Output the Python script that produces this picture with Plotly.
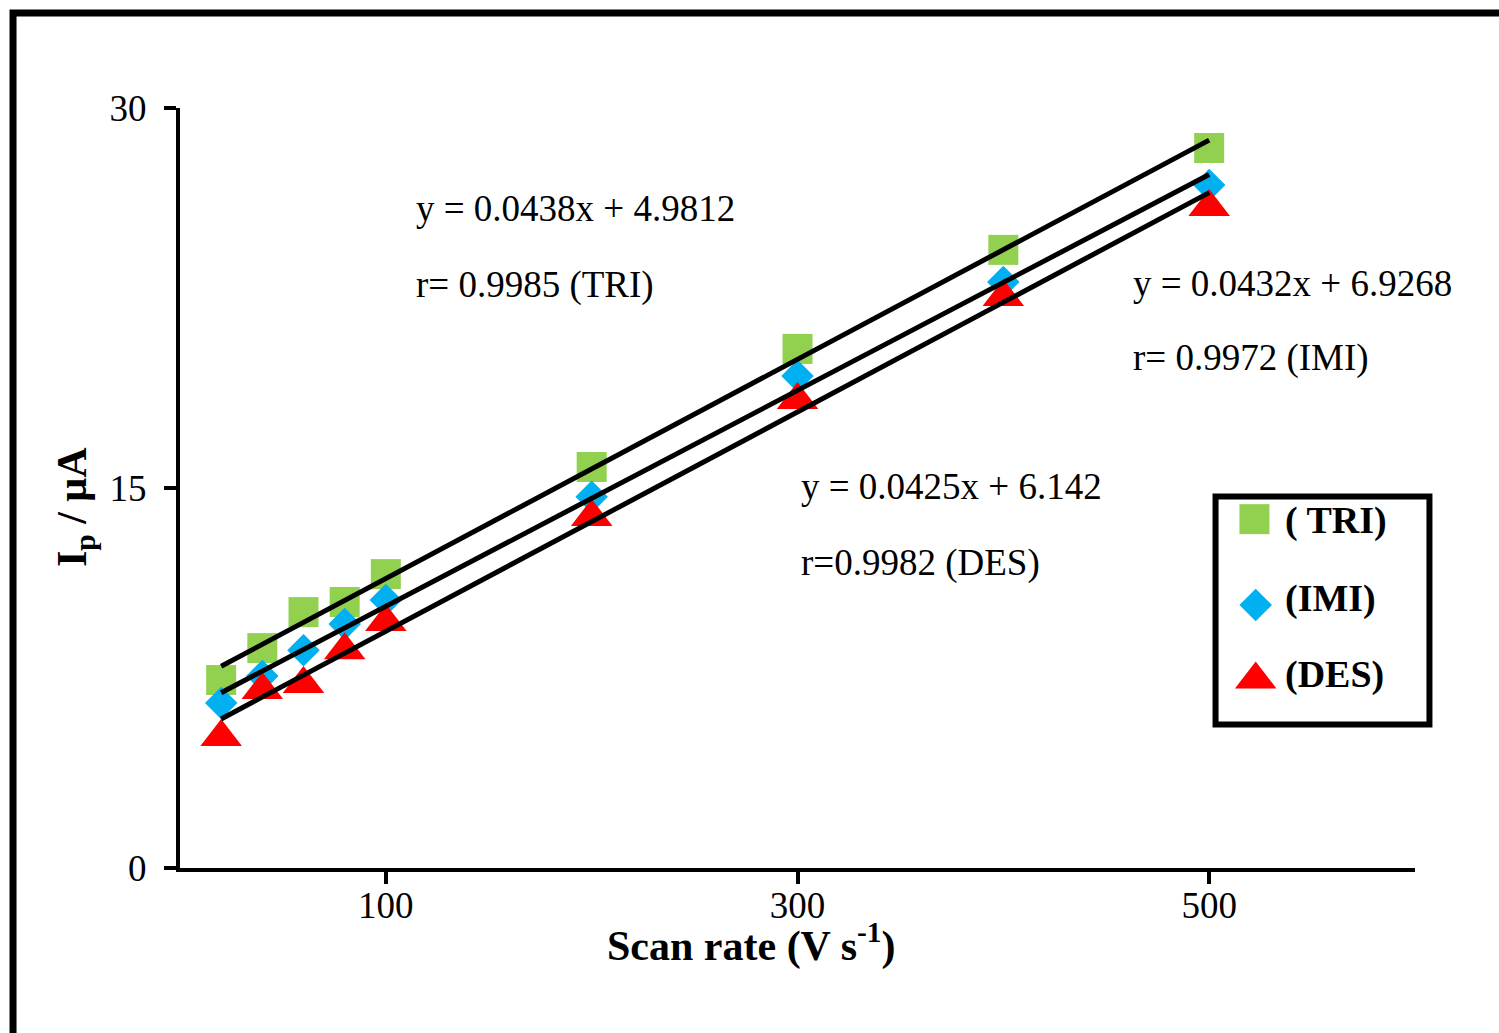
import numpy as np
import plotly.graph_objects as go

scan_rate = [20, 40, 60, 80, 100, 200, 300, 400, 500]
tri = [7.42, 8.68, 10.1, 10.5, 11.6, 15.83, 20.49, 24.4, 28.42]
imi = [6.51, 7.58, 8.6, 9.63, 10.58, 14.65, 19.42, 23.13, 26.96]
des = [5.17, 7.03, 7.26, 8.6, 9.71, 13.86, 18.47, 22.54, 26.09]

series_names = ["( TRI)", "(IMI)", "(DES)"]
series_colors = ["#92D050", "#00B0F0", "#FF0000"]
series_symbols = ["square", "diamond", "triangle-up"]
series_sizes = [30, 25, 36]

eq_lines = [["y = 0.0438x + 4.9812", "r= 0.9985 (TRI)"],
            ["y = 0.0432x + 6.9268", "r= 0.9972 (IMI)"],
            ["y = 0.0425x + 6.142", "r=0.9982 (DES)"]]

FONT = "Liberation Serif, Times New Roman, serif"

fig = go.Figure()
x = np.array(scan_rate, dtype=float)
for ys, name, col, sym, sz in zip([tri, imi, des], series_names, series_colors, series_symbols, series_sizes):
    fig.add_trace(go.Scatter(x=scan_rate, y=ys, mode="markers", name=name,
                             marker=dict(symbol=sym, size=sz, color=col, line=dict(width=0)),
                             showlegend=False))
for ys in [tri, imi, des]:
    m, b = np.polyfit(x, np.array(ys), 1)
    xl = np.array([x.min(), x.max()])
    fig.add_trace(go.Scatter(x=xl, y=m * xl + b, mode="lines",
                             line=dict(color="black", width=5), showlegend=False))

# manual legend on an overlay axis (fractions of plot area)
leg_mx = [0.870, 0.871, 0.871]
leg_my = [0.459, 0.346, 0.248]
leg_ty = [0.4566, 0.355, 0.255]
for i in range(3):
    fig.add_trace(go.Scatter(x=[leg_mx[i]], y=[leg_my[i]], xaxis="x2", yaxis="y2", mode="markers",
                             marker=dict(symbol=series_symbols[i], size=series_sizes[i], color=series_colors[i]),
                             showlegend=False, hoverinfo="skip", cliponaxis=False))
    fig.add_annotation(x=0.893, y=leg_ty[i], xref="paper", yref="paper", text="<b>" + series_names[i] + "</b>",
                       showarrow=False, xanchor="left", yanchor="middle",
                       font=dict(family=FONT, size=38, color="black"))

fig.add_shape(type="rect", xref="paper", yref="paper", x0=0.8385, x1=1.0117, y0=0.4888, y1=0.1888,
              line=dict(color="black", width=6), fillcolor="rgba(0,0,0,0)")

# equation annotations
eq_pos = [(0.1895, 0.8684, 0.767), (0.770, 0.7697, 0.671), (0.501, 0.5026, 0.4013)]
for (ex, ey1, ey2), lines in zip(eq_pos, eq_lines):
    for ey, t in zip([ey1, ey2], lines):
        fig.add_annotation(x=ex, y=ey, xref="paper", yref="paper", text=t, showarrow=False,
                           xanchor="left", yanchor="middle", align="left",
                           font=dict(family=FONT, size=37, color="black"))

# axis titles
fig.add_annotation(x=0.463, y=-0.0987, xref="paper", yref="paper",
                   text="<b>Scan rate (V s<sup>-1</sup>)</b>", showarrow=False,
                   xanchor="center", yanchor="middle", font=dict(family=FONT, size=42, color="black"))
fig.add_annotation(x=-0.085, y=0.475, xref="paper", yref="paper", textangle=-90,
                   text="<b>I<sub>p</sub> / μA</b>", showarrow=False,
                   xanchor="center", yanchor="middle", font=dict(family=FONT, size=42, color="black"))

# outer frame
fig.add_shape(type="rect", xref="paper", yref="paper", x0=-0.1352, x1=1.10, y0=1.125, y1=-0.25,
              line=dict(color="black", width=7), fillcolor="rgba(0,0,0,0)")

fig.update_layout(
    width=1499, height=1033,
    margin=dict(l=180, r=84, t=108, b=165),
    paper_bgcolor="white", plot_bgcolor="white",
    font=dict(family=FONT, size=37, color="black"),
    showlegend=False,
    xaxis=dict(range=[0, 600], tickvals=[100, 300, 500], ticks="outside", ticklen=12, tickwidth=4,
               tickcolor="black", showline=True, linewidth=4, linecolor="black", showgrid=False,
               zeroline=False, tickfont=dict(family=FONT, size=37), ticklabelstandoff=-10),
    yaxis=dict(range=[0, 30], tickvals=[0, 15, 30], ticks="outside", ticklen=12, tickwidth=4,
               tickcolor="black", showline=True, linewidth=4, linecolor="black", showgrid=False,
               zeroline=False, tickfont=dict(family=FONT, size=37), ticklabelstandoff=10),
    xaxis2=dict(range=[0, 1], overlaying="x", visible=False, fixedrange=True),
    yaxis2=dict(range=[0, 1], overlaying="y", visible=False, fixedrange=True),
)

fig.write_html("out.html")
